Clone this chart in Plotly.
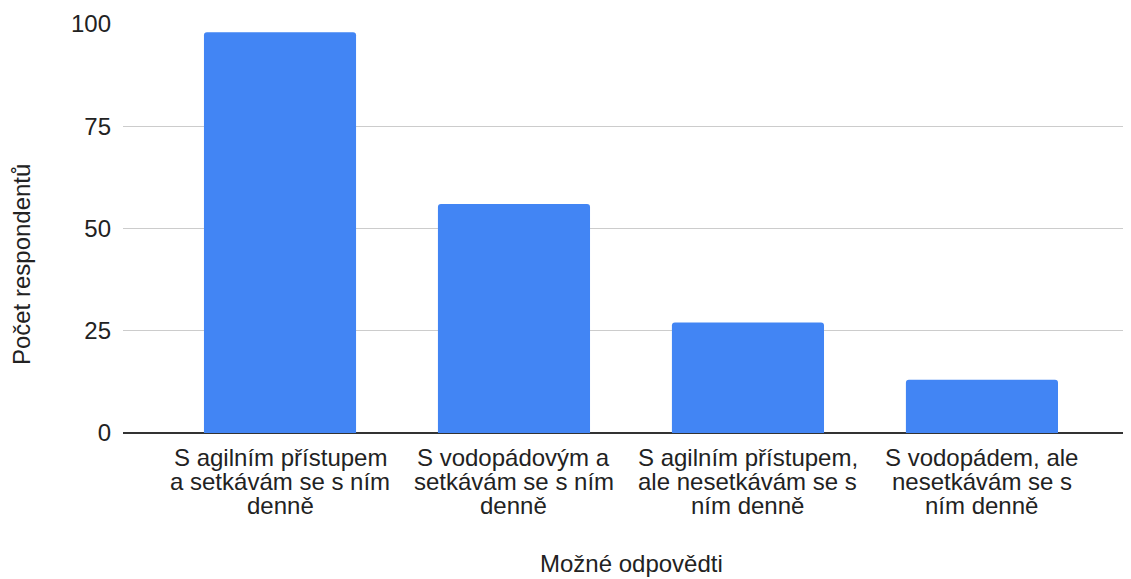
import plotly.graph_objects as go

categories = [
    "S agilním přístupem<br>a setkávám se s ním<br>denně",
    "S vodopádovým a<br>setkávám se s ním<br>denně",
    "S agilním přístupem,<br>ale nesetkávám se s<br>ním denně",
    "S vodopádem, ale<br>nesetkávám se s<br>ním denně",
]
counts = [98, 56, 27, 13]
y_ticks = [0, 25, 50, 75, 100]

FONT = "Liberation Sans, Arial, sans-serif"
TEXT = "#222222"
FS = 24

fig = go.Figure()
fig.add_trace(go.Bar(
    x=list(range(len(categories))),
    y=counts,
    marker=dict(color="#4285f4", cornerradius=3, line=dict(width=0)),
))

# category labels, one annotation per line so the line spacing stays tight
annots = []
for i, label in enumerate(categories):
    for j, line in enumerate(label.split("<br>")):
        annots.append(dict(
            x=i, xref="x", y=0, yref="paper",
            text=line, showarrow=False,
            xanchor="center", yanchor="middle",
            yshift=-24 - 24 * j,
            font=dict(family=FONT, size=FS, color=TEXT),
        ))

annots.append(dict(
    x=0.504, xref="paper", y=-0.320, yref="paper",
    text="Možné odpovědti", showarrow=False,
    xanchor="center", yanchor="middle",
    font=dict(family=FONT, size=FS, color=TEXT),
))
annots.append(dict(
    x=-0.10, xref="paper", y=0.411, yref="paper",
    text="Počet respondentů", showarrow=False, textangle=-90,
    xanchor="center", yanchor="middle",
    font=dict(family=FONT, size=FS, color=TEXT),
))

fig.update_layout(
    width=1123,
    height=571,
    margin=dict(l=115, r=0, t=16, b=146),
    paper_bgcolor="white",
    plot_bgcolor="white",
    font=dict(family=FONT, size=FS, color=TEXT),
    bargap=0.35,
    showlegend=False,
    annotations=annots,
)

fig.update_xaxes(
    range=[-0.671, 3.637],
    showgrid=False,
    showticklabels=False,
    ticks="",
)
fig.update_yaxes(
    range=[0, 100],
    tickvals=y_ticks,
    showgrid=True,
    gridcolor="#cccccc",
    gridwidth=1,
    zeroline=True,
    zerolinecolor="#333333",
    zerolinewidth=2,
    ticklabelstandoff=11,
)

fig.write_html("out.html")
